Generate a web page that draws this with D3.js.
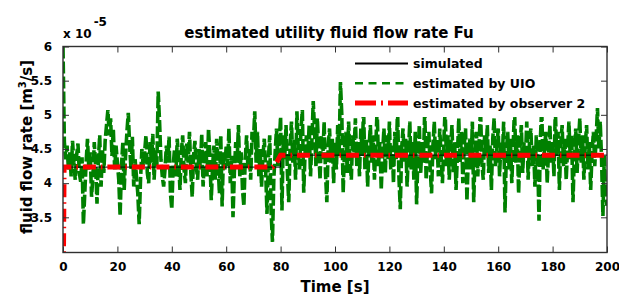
<!DOCTYPE html>
<html>
<head>
<meta charset="utf-8">
<script src="https://cdn.jsdelivr.net/npm/d3@7/dist/d3.min.js"></script>
<style>
  html, body { margin: 0; padding: 0; background: #fff; }
  svg { display: block; }
  text { font-family: "DejaVu Sans", sans-serif; font-weight: bold; fill: #000; }
</style>
</head>
<body>
<svg id="chart" width="619" height="297"></svg>
<script>
// ---- data (values in units of 1e-5 m^3/s) ----
const xTickValues = [0, 20, 40, 60, 80, 100, 120, 140, 160, 180, 200];
const yTickValues = [3.5, 4, 4.5, 5, 5.5, 6];

const simTime = [0, 80, 80, 200];
const simValues = [4.235, 4.235, 4.41, 4.41];

const obsTime = [0, 0.4, 77, 78.5, 80, 200];
const obsValues = [2.0, 4.235, 4.235, 4.30, 4.41, 4.41];

const uioStart = 0, uioStep = 0.5;
const uioValues = [
  6.00, 4.60, 4.35, 4.55, 4.20, 4.45, 4.10, 4.62, 4.30, 4.05, 4.40, 4.58, 4.15, 4.02, 4.38, 3.40, 3.85, 4.30, 4.65, 4.20,
  4.45, 3.80, 4.10, 4.60, 4.25, 3.70, 4.35, 4.70, 3.95, 4.50, 4.15, 4.62, 4.85, 5.07, 4.70, 4.95, 4.40, 4.80, 4.20, 4.55,
  4.30, 4.05, 3.52, 4.25, 4.60, 3.90, 4.40, 4.75, 5.03, 4.55, 4.20, 4.68, 3.95, 4.35, 4.10, 3.85, 3.40, 4.05, 4.50, 4.25,
  4.45, 4.70, 4.15, 4.00, 4.60, 4.30, 4.72, 4.05, 4.48, 4.25, 5.34, 4.90, 4.35, 4.10, 3.95, 4.20, 4.55, 4.30, 4.68, 3.85,
  3.62, 4.25, 4.50, 4.10, 4.65, 4.35, 3.90, 4.45, 4.70, 4.20, 4.00, 4.58, 4.30, 4.75, 4.15, 3.80, 4.40, 4.62, 4.25, 4.05,
  4.50, 4.20, 4.72, 3.95, 4.35, 4.60, 4.10, 4.80, 4.40, 3.75, 4.25, 4.55, 4.05, 4.65, 4.30, 3.85, 4.70, 3.66, 4.45, 4.20,
  4.55, 4.25, 4.80, 4.00, 4.40, 3.50, 4.15, 4.60, 4.30, 4.85, 4.10, 4.45, 3.90, 3.66, 4.35, 4.70, 4.20, 4.50, 4.05, 4.75,
  4.60, 5.05, 4.30, 4.75, 4.10, 4.50, 3.95, 4.40, 4.65, 4.20, 3.55, 4.35, 4.70, 3.60, 3.14, 4.05, 4.45, 4.80, 4.25, 4.60,
  4.97, 3.60, 4.70, 4.35, 4.85, 4.15, 3.72, 4.55, 4.90, 4.30, 4.65, 4.05, 5.05, 4.50, 4.20, 4.80, 5.07, 3.86, 4.45, 4.70,
  4.40, 4.85, 4.10, 4.60, 5.20, 4.75, 4.25, 4.95, 4.50, 4.05, 4.70, 4.35, 4.90, 4.15, 3.72, 4.55, 4.80, 4.30, 4.65, 4.00,
  4.60, 4.20, 4.85, 4.40, 5.48, 5.00, 3.86, 4.50, 4.75, 4.15, 4.90, 4.35, 4.05, 4.70, 4.45, 4.95, 4.25, 4.60, 4.10, 4.80,
  4.40, 5.10, 4.20, 4.65, 3.95, 4.50, 4.85, 4.30, 4.70, 4.05, 4.55, 5.10, 4.25, 4.60, 3.90, 4.45, 4.80, 4.15, 4.70, 4.35,
  4.90, 4.20, 4.55, 4.00, 4.75, 4.35, 5.10, 4.10, 3.62, 4.50, 4.80, 4.30, 4.65, 3.95, 4.45, 4.90, 4.20, 4.60, 4.05, 4.75,
  3.69, 4.40, 4.85, 4.15, 4.60, 4.30, 5.10, 4.05, 4.50, 4.75, 4.20, 3.85, 4.55, 4.90, 4.35, 4.65, 4.10, 4.80, 4.40, 4.00,
  4.60, 5.10, 4.25, 4.70, 4.05, 4.50, 4.85, 4.15, 4.60, 3.90, 4.40, 4.95, 4.30, 4.75, 4.00, 4.55, 4.80, 3.74, 4.35, 4.65,
  4.20, 4.90, 3.72, 4.45, 4.75, 4.10, 4.60, 5.10, 4.30, 4.05, 4.70, 4.40, 4.85, 4.15, 4.55, 3.90, 4.65, 4.95, 4.25, 4.50,
  4.80, 4.10, 4.60, 4.35, 4.90, 3.57, 4.45, 4.75, 4.20, 4.65, 4.00, 4.55, 5.10, 4.30, 4.70, 3.85, 4.50, 4.85, 4.15, 4.60,
  4.35, 4.90, 4.05, 4.60, 4.80, 4.25, 4.55, 3.95, 4.70, 4.40, 3.45, 4.65, 5.10, 4.20, 4.50, 4.75, 4.00, 4.45, 4.85, 4.30,
  4.60, 4.10, 5.10, 4.40, 4.75, 3.90, 4.55, 4.85, 4.25, 4.65, 4.05, 4.50, 4.90, 4.35, 4.70, 3.72, 4.45, 4.80, 4.15, 4.60,
  4.95, 4.30, 4.70, 4.05, 4.55, 4.85, 4.20, 4.60, 3.90, 4.45, 4.75, 4.25, 4.65, 5.10, 4.50, 4.90, 4.35, 3.52, 4.40, 3.80, 3.67
];

const legendLabels = ["simulated", "estimated by UIO", "estimated by observer 2"];
const titleText = "estimated utility fluid flow rate Fu";
const xLabelText = "Time [s]";

// ---- layout ----
const svg = d3.select("#chart");
const plot = { left: 63, right: 607, top: 46.5, bottom: 252.5 };

const x = d3.scaleLinear().domain([0, 200]).range([plot.left, plot.right]);
const y = d3.scaleLinear().domain([2.985, 6]).range([plot.bottom, plot.top]);

svg.append("rect").attr("width", 619).attr("height", 297).attr("fill", "#fff");

svg.append("defs").append("clipPath").attr("id", "clip")
  .append("rect")
  .attr("x", plot.left).attr("y", plot.top)
  .attr("width", plot.right - plot.left).attr("height", plot.bottom - plot.top);

const uio = uioValues.map((v, i) => ({ t: uioStart + i * uioStep, v }));
const sim = simTime.map((t, i) => ({ t, v: simValues[i] }));
const obs = obsTime.map((t, i) => ({ t, v: obsValues[i] }));

const line = d3.line().x(d => x(d.t)).y(d => y(d.v));

const g = svg.append("g").attr("clip-path", "url(#clip)");

g.append("path").datum(uio)
  .attr("d", line).attr("fill", "none")
  .attr("stroke", "#008000").attr("stroke-width", 3.6)
  .attr("stroke-linejoin", "bevel")
  .attr("stroke-dasharray", "12,3");

g.append("path").datum(sim)
  .attr("d", line).attr("fill", "none")
  .attr("stroke", "#000").attr("stroke-width", 1);

g.append("path").datum(obs)
  .attr("d", line).attr("fill", "none")
  .attr("stroke", "#ff0000").attr("stroke-width", 5)
  .attr("stroke-dasharray", "13,5,1.5,5");

// ---- legend (white background, no border) ----
const legend = svg.append("g");
legend.append("rect")
  .attr("x", 348).attr("y", 50).attr("width", 245).attr("height", 67)
  .attr("fill", "#fff");
const legRows = [63.5, 83.3, 103];
const legStyles = [
  { stroke: "#000", width: 2, dash: null },
  { stroke: "#008000", width: 2.6, dash: "8,5.5" },
  { stroke: "#ff0000", width: 5, dash: "21,5,2,5" }
];
legendLabels.forEach((lab, i) => {
  const l = legend.append("line")
    .attr("x1", 355).attr("x2", 408)
    .attr("y1", legRows[i]).attr("y2", legRows[i])
    .attr("stroke", legStyles[i].stroke)
    .attr("stroke-width", legStyles[i].width);
  if (legStyles[i].dash) l.attr("stroke-dasharray", legStyles[i].dash);
  legend.append("text")
    .attr("x", 413).attr("y", legRows[i]).attr("dy", "0.36em")
    .attr("font-size", 12.5).text(lab);
});

// ---- axes (box with inward ticks) ----
const axisColor = "#303030";
const tickLen = 6;
const axes = svg.append("g");

const xBottom = d3.axisBottom(x).tickValues(xTickValues).tickSize(-tickLen).tickPadding(10).tickFormat(d3.format("d"));
const xTop = d3.axisTop(x).tickValues(xTickValues).tickSize(-tickLen).tickFormat("");
const yLeft = d3.axisLeft(y).tickValues(yTickValues).tickSize(-tickLen).tickPadding(11).tickFormat(d => String(d));
const yRight = d3.axisRight(y).tickValues(yTickValues).tickSize(-tickLen).tickFormat("");

function styleAxis(sel) {
  sel.select(".domain").remove();
  sel.selectAll(".tick line").attr("stroke", axisColor).attr("stroke-width", 1);
  sel.selectAll(".tick text").attr("font-size", 12).attr("font-family", "DejaVu Sans").attr("font-weight", "bold").attr("fill", "#000");
}

axes.append("g").attr("transform", `translate(0,${plot.bottom})`).call(xBottom).call(styleAxis);
axes.append("g").attr("transform", `translate(0,${plot.top})`).call(xTop).call(styleAxis);
axes.append("g").attr("transform", `translate(${plot.left},0)`).call(yLeft).call(styleAxis);
axes.append("g").attr("transform", `translate(${plot.right},0)`).call(yRight).call(styleAxis);

axes.append("rect")
  .attr("x", plot.left).attr("y", plot.top)
  .attr("width", plot.right - plot.left).attr("height", plot.bottom - plot.top)
  .attr("fill", "none").attr("stroke", axisColor).attr("stroke-width", 1.4);

// ---- texts ----
svg.append("text").attr("x", 329).attr("y", 38).attr("text-anchor", "middle")
  .attr("font-size", 15).text(titleText);

svg.append("text").attr("x", 335).attr("y", 292).attr("text-anchor", "middle")
  .attr("font-size", 15).text(xLabelText);

const yl = svg.append("text")
  .attr("transform", "translate(32,147) rotate(-90)")
  .attr("text-anchor", "middle").attr("font-size", 15);
yl.append("tspan").text("fluid flow rate [m");
yl.append("tspan").attr("font-size", 10).attr("dy", -6).text("3");
yl.append("tspan").attr("dy", 6).text("/s]");

const mult = svg.append("text").attr("x", 63).attr("y", 38).attr("font-size", 12);
mult.append("tspan").text("x 10");
mult.append("tspan").attr("dy", -12).attr("dx", 2).text("-5");
</script>
</body>
</html>
